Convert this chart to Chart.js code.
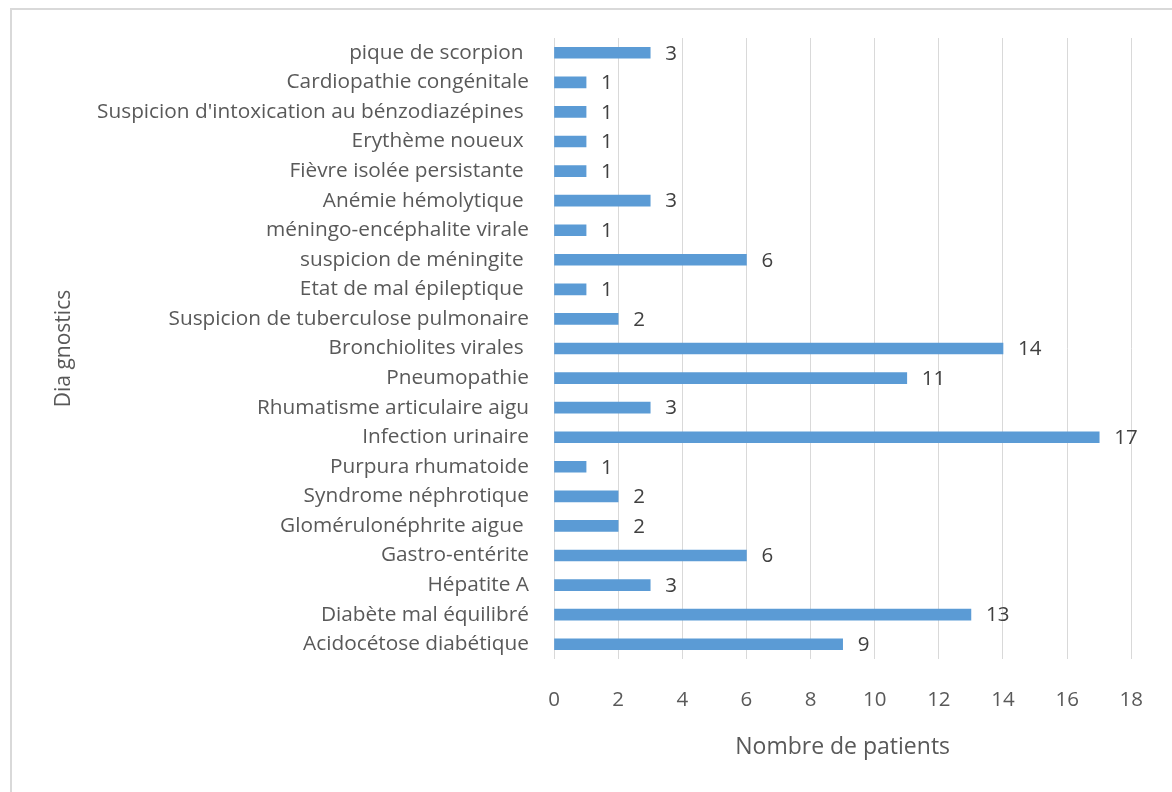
<!DOCTYPE html>
<html>
<head>
<meta charset="utf-8">
<script src="https://cdn.jsdelivr.net/npm/chart.js@4"></script>
<style>
  html, body { margin: 0; padding: 0; background: #ffffff; }
  #wrap { position: relative; width: 1172px; height: 792px; }
</style>
</head>
<body>
<div id="wrap"><canvas id="chart" width="1172" height="792"></canvas></div>
<script>
// Diagnostics, listed top to bottom
const diagnostics = [
  "pique de scorpion ",
  "Cardiopathie congénitale",
  "Suspicion d'intoxication au bénzodiazépines ",
  "Erythème noueux ",
  "Fièvre isolée persistante ",
  "Anémie hémolytique ",
  "méningo-encéphalite virale",
  "suspicion de méningite ",
  "Etat de mal épileptique ",
  "Suspicion de tuberculose pulmonaire",
  "Bronchiolites virales ",
  "Pneumopathie",
  "Rhumatisme articulaire aigu",
  "Infection urinaire",
  "Purpura rhumatoide",
  "Syndrome néphrotique",
  "Glomérulonéphrite aigue ",
  "Gastro-entérite",
  "Hépatite A",
  "Diabète mal équilibré",
  "Acidocétose diabétique"
];

// Number of patients per diagnostic
const patients = [3, 1, 1, 1, 1, 3, 1, 6, 1, 2, 14, 11, 3, 17, 1, 2, 2, 6, 3, 13, 9];

// Horizontal axis ticks
const xTicks = [0, 2, 4, 6, 8, 10, 12, 14, 16, 18];

const FONT = "'Open Sans', sans-serif";
const TEXT = "#595959";

// Light frame around the chart area
const framePlugin = {
  id: 'frame',
  beforeDraw(chart) {
    const ctx = chart.ctx;
    ctx.save();
    ctx.fillStyle = '#ffffff';
    ctx.fillRect(0, 0, chart.width, chart.height);
    ctx.strokeStyle = '#d9d9d9';
    ctx.lineWidth = 2;
    ctx.beginPath();
    ctx.moveTo(11, chart.height + 5);
    ctx.lineTo(11, 9);
    ctx.lineTo(chart.width + 5, 9);
    ctx.stroke();
    ctx.restore();
  }
};

// Value written just past the end of each bar
const valueLabels = {
  id: 'valueLabels',
  afterDatasetsDraw(chart) {
    const ctx = chart.ctx;
    const meta = chart.getDatasetMeta(0);
    ctx.save();
    ctx.font = "20.5px " + FONT;
    ctx.fillStyle = '#404040';
    ctx.textAlign = 'left';
    ctx.textBaseline = 'middle';
    meta.data.forEach((bar, i) => {
      ctx.fillText(String(patients[i]), bar.x + 15, bar.y + 1);
    });
    ctx.restore();
  }
};

new Chart(document.getElementById('chart'), {
  type: 'bar',
  data: {
    labels: diagnostics,
    datasets: [{
      data: patients,
      backgroundColor: '#5b9bd5',
      borderWidth: 0,
      barThickness: 11
    }]
  },
  options: {
    indexAxis: 'y',
    responsive: false,
    animation: false,
    layout: { padding: { top: 38, right: 34, left: 0, bottom: 0 } },
    plugins: {
      legend: { display: false },
      tooltip: { enabled: false }
    },
    scales: {
      x: {
        min: 0,
        max: 18,
        afterBuildTicks(scale) {
          scale.ticks = xTicks.map(v => ({ value: v }));
        },
        afterFit(scale) { scale.height = 133; },
        grid: { color: '#d9d9d9', lineWidth: 1, drawTicks: false },
        border: { display: false },
        ticks: {
          padding: 29,
          color: TEXT,
          font: { family: FONT, size: 20.5 }
        },
        title: {
          display: true,
          text: 'Nombre de patients',
          color: TEXT,
          font: { family: FONT, size: 23 },
          padding: { top: 0, bottom: 31 }
        }
      },
      y: {
        afterFit(scale) { scale.width = 554; },
        grid: { display: false, drawTicks: false },
        border: { display: false },
        ticks: {
          padding: 25,
          autoSkip: false,
          color: TEXT,
          font: { family: FONT, size: 20.8 }
        },
        title: {
          display: true,
          text: 'Dia gnostics',
          color: TEXT,
          font: { family: FONT, size: 21 },
          padding: { top: 51, bottom: 0 }
        }
      }
    }
  },
  plugins: [framePlugin, valueLabels]
});
</script>
</body>
</html>
